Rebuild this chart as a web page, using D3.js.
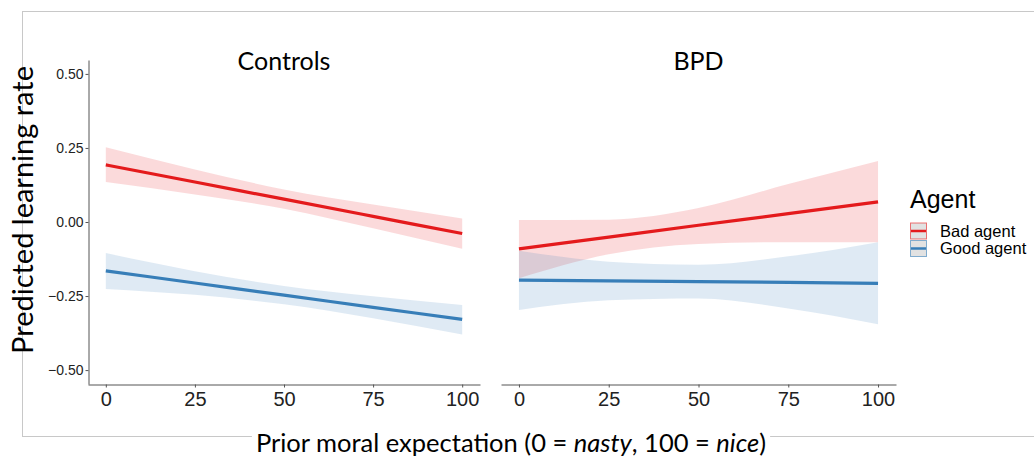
<!DOCTYPE html>
<html>
<head>
<meta charset="utf-8">
<script src="https://cdn.jsdelivr.net/npm/d3@7"></script>
<style>
  body { margin: 0; background: #fff; }
  svg { display: block; }
  .axis path, .axis line { stroke: #555; }
</style>
</head>
<body>
<svg id="chart" width="1034" height="458"></svg>
<script>
const panels = ['Controls', 'BPD'];
const agents = ['Bad agent', 'Good agent'];
const agentColors = ['#e41a1c', '#377eb8'];
const xTicks = [0, 25, 50, 75, 100];
const yTicks = [-0.5, -0.25, 0, 0.25, 0.5];
const xs = [0, 25, 50, 75, 100];

// fitted values and CI
const controlsBadFit = [0.193, 0.135, 0.077, 0.019, -0.039];
const controlsBadLo = [0.135, 0.093, 0.045, -0.021, -0.090];
const controlsBadHi = [0.252, 0.177, 0.110, 0.059, 0.012];
const controlsGoodFit = [-0.165, -0.206, -0.247, -0.288, -0.329];
const controlsGoodLo = [-0.226, -0.246, -0.278, -0.325, -0.380];
const controlsGoodHi = [-0.105, -0.166, -0.216, -0.251, -0.280];
const bpdBadFit = [-0.091, -0.051, -0.011, 0.028, 0.068];
const bpdBadLo = [-0.190, -0.109, -0.074, -0.068, -0.068];
const bpdBadHi = [0.007, 0.008, 0.047, 0.128, 0.206];
const bpdGoodFit = [-0.196, -0.199, -0.201, -0.204, -0.207];
const bpdGoodLo = [-0.297, -0.264, -0.258, -0.292, -0.345];
const bpdGoodHi = [-0.097, -0.134, -0.144, -0.116, -0.068];

const series = [
  {panel: 0, agent: 0, fit: controlsBadFit, lo: controlsBadLo, hi: controlsBadHi},
  {panel: 0, agent: 1, fit: controlsGoodFit, lo: controlsGoodLo, hi: controlsGoodHi},
  {panel: 1, agent: 0, fit: bpdBadFit, lo: bpdBadLo, hi: bpdBadHi},
  {panel: 1, agent: 1, fit: bpdGoodFit, lo: bpdGoodLo, hi: bpdGoodHi}
];

const svg = d3.select('#chart');
const titleFont = 'Lato, "Open Sans", sans-serif';
const tickFont = '"Liberation Sans", Arial, sans-serif';

// outer grey frame
svg.append('rect')
  .attr('x', 22.5).attr('y', 11.5)
  .attr('width', 1100).attr('height', 425)
  .attr('fill', 'none')
  .attr('stroke', '#c8c8c8');

const yScale = d3.scaleLinear()
  .domain([-0.547, 0.547])
  .range([384, 60]);

const xScales = [
  d3.scaleLinear().domain([-5, 105]).range([88, 480]),
  d3.scaleLinear().domain([-5, 105]).range([501, 896])
];

panels.forEach((name, p) => {
  const xScale = xScales[p];
  const g = svg.append('g');

  const area = d3.area()
    .x((d, i) => xScale(xs[i]))
    .y0(d => yScale(d[0]))
    .y1(d => yScale(d[1]))
    .curve(d3.curveMonotoneX);
  const line = d3.line()
    .x((d, i) => xScale(xs[i]))
    .y(d => yScale(d))
    .curve(d3.curveMonotoneX);

  const ser = series.filter(s => s.panel === p);
  g.selectAll('.band')
    .data(ser)
    .enter()
    .append('path')
    .attr('class', 'band')
    .attr('d', s => area(s.lo.map((v, i) => [v, s.hi[i]])))
    .attr('fill', s => agentColors[s.agent])
    .attr('fill-opacity', 0.16);

  g.selectAll('.fit')
    .data(ser)
    .enter()
    .append('path')
    .attr('class', 'fit')
    .attr('d', s => line(s.fit))
    .attr('fill', 'none')
    .attr('stroke', s => agentColors[s.agent])
    .attr('stroke-width', 3.2);

  svg.append('g')
    .attr('class', 'axis')
    .attr('transform', 'translate(0, 384.5)')
    .call(d3.axisBottom(xScale).tickValues(xTicks).tickSize(3).tickSizeOuter(0).tickPadding(4))
    .attr('font-size', 20)
    .attr('font-family', tickFont)
    .selectAll('text')
    .attr('fill', '#222');

  svg.append('text')
    .attr('x', (xScale.range()[0] + xScale.range()[1]) / 2)
    .attr('y', 70)
    .attr('text-anchor', 'middle')
    .style('font-family', titleFont)
    .style('font-size', '25px')
    .text(name);
});

svg.append('g')
  .attr('class', 'axis')
  .attr('transform', 'translate(88.5, 0)')
  .call(d3.axisLeft(yScale).tickValues(yTicks).tickSize(3).tickSizeOuter(0).tickPadding(2)
    .tickFormat(d3.format('.2f')))
  .attr('font-size', 14)
  .attr('font-family', tickFont)
  .selectAll('text')
  .attr('fill', '#222');

// axis titles
svg.append('text')
  .attr('transform', 'translate(33, 210) rotate(-90)')
  .attr('text-anchor', 'middle')
  .style('font-family', titleFont)
  .style('font-size', '29px')
  .text('Predicted learning rate');

const xLab = svg.append('text')
  .attr('x', 511)
  .attr('y', 452)
  .attr('text-anchor', 'middle')
  .style('font-family', titleFont)
  .style('font-size', '25.5px');
xLab.append('tspan').text('Prior moral expectation (0 = ');
xLab.append('tspan').style('font-style', 'italic').text('nasty');
xLab.append('tspan').text(', 100 = ');
xLab.append('tspan').style('font-style', 'italic').text('nice');
xLab.append('tspan').text(')');
const bb = xLab.node().getBBox();
svg.insert('rect', () => xLab.node())
  .attr('x', bb.x - 4).attr('y', 430)
  .attr('width', bb.width + 8).attr('height', 12)
  .attr('fill', '#fff');

// legend
const legend = svg.append('g').attr('transform', 'translate(910, 0)');
legend.append('text')
  .attr('x', 0).attr('y', 208)
  .style('font-family', tickFont)
  .style('font-size', '25px')
  .text('Agent');

const keys = legend.selectAll('.key')
  .data(agents)
  .enter()
  .append('g')
  .attr('class', 'key')
  .attr('transform', (d, i) => `translate(0, ${222.5 + i * 17.5})`);
keys.append('rect')
  .attr('x', 0.5).attr('y', 0.5)
  .attr('width', 16).attr('height', 16)
  .attr('fill', '#e2e2e2')
  .attr('stroke', (d, i) => agentColors[i])
  .attr('stroke-opacity', 0.6);
keys.append('line')
  .attr('x1', 1).attr('x2', 16)
  .attr('y1', 8.5).attr('y2', 8.5)
  .attr('stroke', (d, i) => agentColors[i])
  .attr('stroke-width', 2.5);
keys.append('text')
  .attr('x', 30).attr('y', 14)
  .style('font-family', tickFont)
  .style('font-size', '16.5px')
  .text(d => d);
</script>
</body>
</html>
